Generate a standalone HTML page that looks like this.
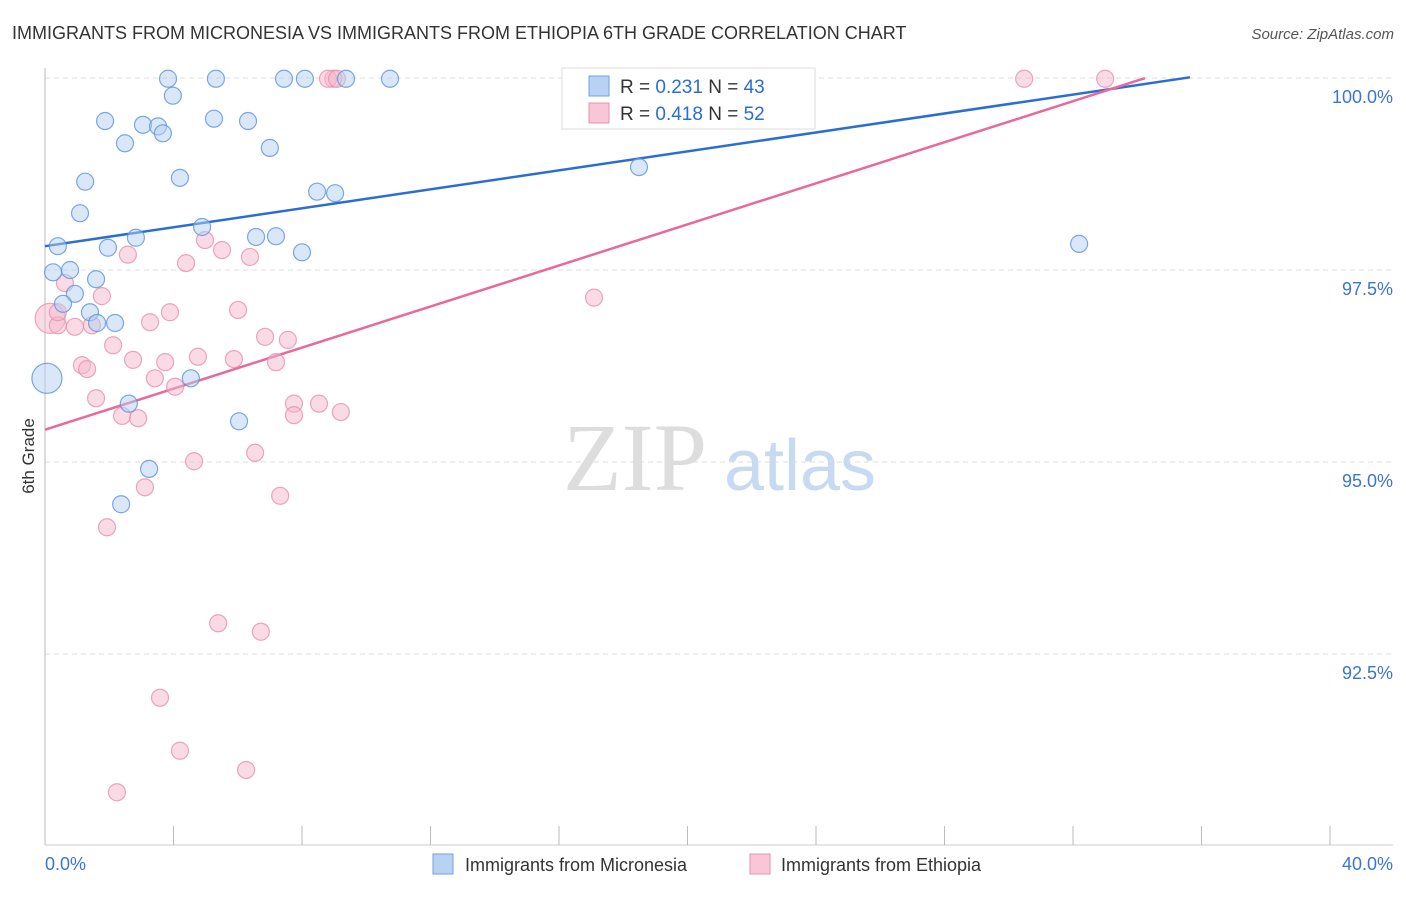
<!DOCTYPE html>
<html><head><meta charset="utf-8"><style>
body{margin:0;background:#fff;font-family:"Liberation Sans",sans-serif}
</style></head><body>
<svg id="chart" width="1406" height="892" xmlns="http://www.w3.org/2000/svg" font-family="Liberation Sans, sans-serif">
<text x="12" y="39" font-size="18" fill="#333">IMMIGRANTS FROM MICRONESIA VS IMMIGRANTS FROM ETHIOPIA 6TH GRADE CORRELATION CHART</text>
<text x="1394" y="39" font-size="15" fill="#555" text-anchor="end" font-style="italic">Source: ZipAtlas.com</text>
<text x="34" y="456" font-size="17" fill="#333" text-anchor="middle" transform="rotate(-90 34 456)">6th Grade</text>
<g><text x="635" y="490" font-size="96" fill="#ddd" text-anchor="middle" font-family="Liberation Serif, serif">ZIP</text><text x="800" y="490" font-size="72" fill="#c8daf2" text-anchor="middle">atlas</text></g>
<g id="grid"></g><g id="axes"></g><g id="lines"></g><g id="pts"></g>
<g>
<rect x="562" y="68" width="253" height="61" fill="#fff" stroke="#ddd"/>
<rect x="589" y="76" width="20" height="20" fill="#b8d2f4" stroke="#6fa0e0"/>
<text x="620" y="93" font-size="19" fill="#333">R = <tspan fill="#2a6dd4">0.231</tspan>   N = <tspan fill="#2a6dd4">43</tspan></text>
<rect x="589" y="103" width="20" height="20" fill="#f8c6d6" stroke="#e890ad"/>
<text x="620" y="120" font-size="19" fill="#333">R = <tspan fill="#2a6dd4">0.418</tspan>   N = <tspan fill="#2a6dd4">52</tspan></text>
</g>
<g>
<rect x="433" y="854" width="20" height="20" fill="#b8d2f4" stroke="#6fa0e0"/>
<text x="465" y="871" font-size="18" fill="#333">Immigrants from Micronesia</text>
<rect x="750" y="854" width="20" height="20" fill="#f8c6d6" stroke="#e890ad"/>
<text x="781" y="871" font-size="18" fill="#333">Immigrants from Ethiopia</text>
</g>
</svg>
<script>
const blueX=[3.83,5.32,7.44,8.09,9.37,10.74,3.98,1.87,3.05,3.52,3.67,5.26,6.32,2.49,7.0,1.25,4.2,8.47,9.03,18.49,1.09,4.89,2.83,6.57,7.19,0.40,1.96,8.0,32.19,0.25,0.78,1.59,0.93,0.56,1.40,1.62,2.18,0.06,4.54,2.61,6.04,3.24,2.37];
const blueY=[99.99,99.99,99.99,99.99,99.99,99.99,99.77,99.44,99.39,99.37,99.28,99.47,99.44,99.15,99.09,98.65,98.70,98.52,98.50,98.84,98.24,98.06,97.92,97.93,97.94,97.81,97.79,97.73,97.84,97.47,97.50,97.38,97.19,97.06,96.95,96.81,96.81,96.09,96.09,95.76,95.53,94.91,94.45];
const pinkX=[8.97,8.81,9.09,23.41,30.48,33.0,4.98,5.51,2.58,6.38,4.39,0.62,1.77,3.89,6.01,0.16,0.93,1.46,3.27,0.40,2.12,6.85,7.56,4.76,5.88,3.74,7.19,1.15,2.74,1.31,3.42,4.05,1.59,7.75,8.53,9.21,7.75,2.40,2.90,4.64,6.54,3.11,7.32,1.93,17.09,5.39,6.72,3.58,4.20,6.26,2.24,0.40];
const pinkY=[99.99,99.99,99.99,99.99,99.99,99.99,97.89,97.76,97.70,97.67,97.59,97.33,97.16,96.95,96.98,96.87,96.76,96.78,96.82,96.78,96.52,96.63,96.59,96.37,96.34,96.30,96.30,96.26,96.33,96.21,96.09,95.98,95.83,95.76,95.76,95.65,95.61,95.60,95.57,95.01,95.12,94.67,94.56,94.15,97.14,92.90,92.79,91.93,91.24,90.99,90.70,96.95];
const bigBlue=[37];const bigPink=[15];
const trendIntercepts=[97.81,95.42];const trendSlopes=[0.0617,0.1337];const trendEnds=[35.64,34.24];
const yTicks=[100,97.5,95,92.5];const yTickLabels=["100.0%","97.5%","95.0%","92.5%"];
const xTicks=[0,4,8,12,16,20,24,28,32,36,40];
const NS="http://www.w3.org/2000/svg";
const X=v=>45+v/40*1285, Y=v=>78+(100-v)/2.5*192;
function mk(p,t,a){const e=document.createElementNS(NS,t);for(const k in a)e.setAttribute(k,a[k]);document.getElementById(p).appendChild(e);return e;}
yTicks.forEach((t,i)=>{
 const g=mk('grid','line',{x1:45,x2:1393,y1:Y(t),y2:Y(t),stroke:'#ddd','stroke-dasharray':'5,4'});
 
 
 const l=mk('grid','text',{x:1393,y:Y(t)+25,'font-size':18,fill:'#3a75d6','text-anchor':'end'});l.textContent=yTickLabels[i];
 
 
});
const ax=mk('axes','line',{x1:45,x2:45,y1:68,y2:845,stroke:'#bbb'});


const bx=mk('axes','line',{x1:45,x2:1393,y1:845,y2:845,stroke:'#ccc'});


xTicks.forEach(t=>{const k=mk('axes','line',{x1:X(t),x2:X(t),y1:826,y2:845,stroke:'#bbb'});
 
 });
const x0=mk('axes','text',{x:45,y:870,'font-size':18,fill:'#3a75d6'});x0.textContent='0.0%';


const x1=mk('axes','text',{x:1393,y:870,'font-size':18,fill:'#3a75d6','text-anchor':'end'});x1.textContent='40.0%';


function pts(xs,ys,big,fill,stroke,name){xs.forEach((x,i)=>{
 const c=mk('pts','circle',{cx:X(x),cy:Y(ys[i]),r:big.includes(i)?15:8.5,fill:fill,'fill-opacity':0.5,stroke:stroke,'stroke-width':1.2,'stroke-opacity':0.8});
 
 });}
pts(pinkX,pinkY,bigPink,'#f5b8cc','#e890ad','point-ethiopia');
pts(blueX,blueY,bigBlue,'#b3cff2','#5b93dd','point-micronesia');
['#2a6dd4','#e8699a'].forEach((c,i)=>{
 const l=mk('lines','line',{x1:X(0),y1:Y(trendIntercepts[i]),x2:X(trendEnds[i]),y2:Y(trendIntercepts[i]+trendSlopes[i]*trendEnds[i]),stroke:c,'stroke-width':2.5});
 
 
});
</script>
</body></html>
